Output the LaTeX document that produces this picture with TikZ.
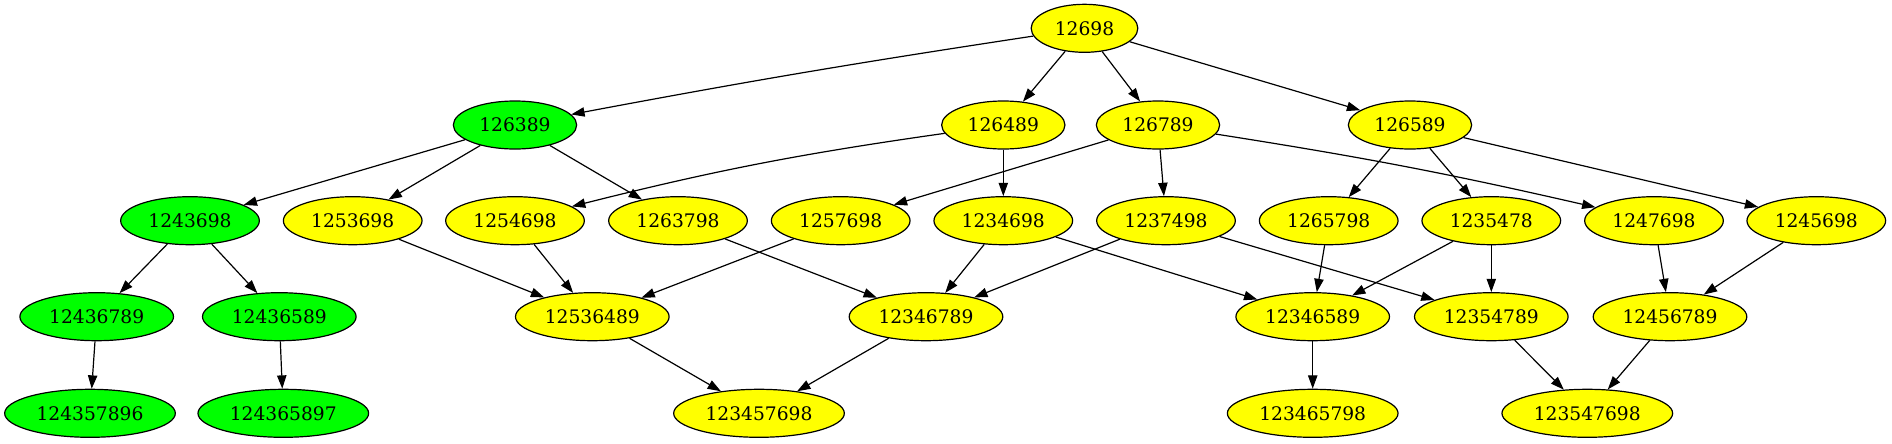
\documentclass[tikz,border=0pt]{standalone}
\usepackage{fontspec}
\setmainfont{DejaVu Serif}
\usetikzlibrary{arrows.meta,shapes.geometric}
\definecolor{gvgreen}{RGB}{0,255,0}
\definecolor{gvyellow}{RGB}{255,255,0}
\tikzset{
  gv/.style={ellipse,draw=black,line width=0.9pt,inner sep=0pt,minimum height=36pt,font=\fontsize{14}{16}\selectfont},
  yl/.style={gv,fill=gvyellow},
  gr/.style={gv,fill=gvgreen},
  w5/.style={minimum width=80pt},
  w6/.style={minimum width=92.5pt},
  w7/.style={minimum width=104pt},
  w8/.style={minimum width=115.2pt},
  w9/.style={minimum width=128pt},
  edge/.style={draw=black,line width=0.9pt,-{Triangle[length=10pt,width=7pt]}},
}
\begin{document}
\begin{tikzpicture}[x=0.75pt,y=-0.75pt]
\useasboundingbox (0,0) rectangle (1892,443);
% row 0
\node[yl,w5] (n12698) at (1084.5,28.3) {12698};
% row 1
\node[gr,w6] (n126389) at (515,125) {126389};
\node[yl,w6] (n126489) at (1003.3,125) {126489};
\node[yl,w6] (n126789) at (1158,125) {126789};
\node[yl,w6] (n126589) at (1410,125) {126589};
% row 2
\node[gr,w7] (n1243698) at (190,220.7) {1243698};
\node[yl,w7] (n1253698) at (352.7,220.7) {1253698};
\node[yl,w7] (n1254698) at (515,220.7) {1254698};
\node[yl,w7] (n1263798) at (678,220.7) {1263798};
\node[yl,w7] (n1257698) at (840.7,220.7) {1257698};
\node[yl,w7] (n1234698) at (1003.3,220.7) {1234698};
\node[yl,w7] (n1237498) at (1166,220.7) {1237498};
\node[yl,w7] (n1265798) at (1328.7,220.7) {1265798};
\node[yl,w7] (n1235478) at (1491.3,220.7) {1235478};
\node[yl,w7] (n1247698) at (1654,220.7) {1247698};
\node[yl,w7] (n1245698) at (1816.3,220.7) {1245698};
% row 3
\node[gr,w8] (n12436789) at (96.7,316.7) {12436789};
\node[gr,w8] (n12436589) at (279.3,316.7) {12436589};
\node[yl,w8] (n12536489) at (592.3,316.7) {12536489};
\node[yl,w8] (n12346789) at (926,316.7) {12346789};
\node[yl,w8] (n12346589) at (1312.7,316.7) {12346589};
\node[yl,w8] (n12354789) at (1491.3,316.7) {12354789};
\node[yl,w8] (n12456789) at (1670,316.7) {12456789};
% row 4
\node[gr,w9] (n124357896) at (90,413.3) {124357896};
\node[gr,w9] (n124365897) at (283.3,413.3) {124365897};
\node[yl,w9] (n123457698) at (759,413.3) {123457698};
\node[yl,w9] (n123465798) at (1312.7,413.3) {123465798};
\node[yl,w9] (n123547698) at (1587.3,413.3) {123547698};
% edges
\draw[edge] (n12698) to[bend right=1] (n126389);
\draw[edge] (n12698) -- (n126489);
\draw[edge] (n12698) -- (n126789);
\draw[edge] (n12698) -- (n126589);
\draw[edge] (n126389) -- (n1243698);
\draw[edge] (n126389) -- (n1253698);
\draw[edge] (n126389) -- (n1263798);
\draw[edge] (n126489) to[bend right=3] (n1254698);
\draw[edge] (n126489) -- (n1234698);
\draw[edge] (n126789) -- (n1257698);
\draw[edge] (n126789) -- (n1237498);
\draw[edge] (n126789) to[bend left=2] (n1247698);
\draw[edge] (n126589) -- (n1265798);
\draw[edge] (n126589) -- (n1235478);
\draw[edge] (n126589) -- (n1245698);
\draw[edge] (n1243698) -- (n12436789);
\draw[edge] (n1243698) -- (n12436589);
\draw[edge] (n12436789) -- (n124357896);
\draw[edge] (n12436589) -- (n124365897);
\draw[edge] (n1253698) -- (n12536489);
\draw[edge] (n1254698) -- (n12536489);
\draw[edge] (n1257698) -- (n12536489);
\draw[edge] (n1263798) -- (n12346789);
\draw[edge] (n1234698) -- (n12346789);
\draw[edge] (n1237498) -- (n12346789);
\draw[edge] (n1234698) -- (n12346589);
\draw[edge] (n1265798) -- (n12346589);
\draw[edge] (n1235478) -- (n12346589);
\draw[edge] (n1237498) -- (n12354789);
\draw[edge] (n1235478) -- (n12354789);
\draw[edge] (n1247698) -- (n12456789);
\draw[edge] (n1245698) -- (n12456789);
\draw[edge] (n12536489) -- (n123457698);
\draw[edge] (n12346789) -- (n123457698);
\draw[edge] (n12346589) -- (n123465798);
\draw[edge] (n12354789) -- (n123547698);
\draw[edge] (n12456789) -- (n123547698);
\end{tikzpicture}
\end{document}
